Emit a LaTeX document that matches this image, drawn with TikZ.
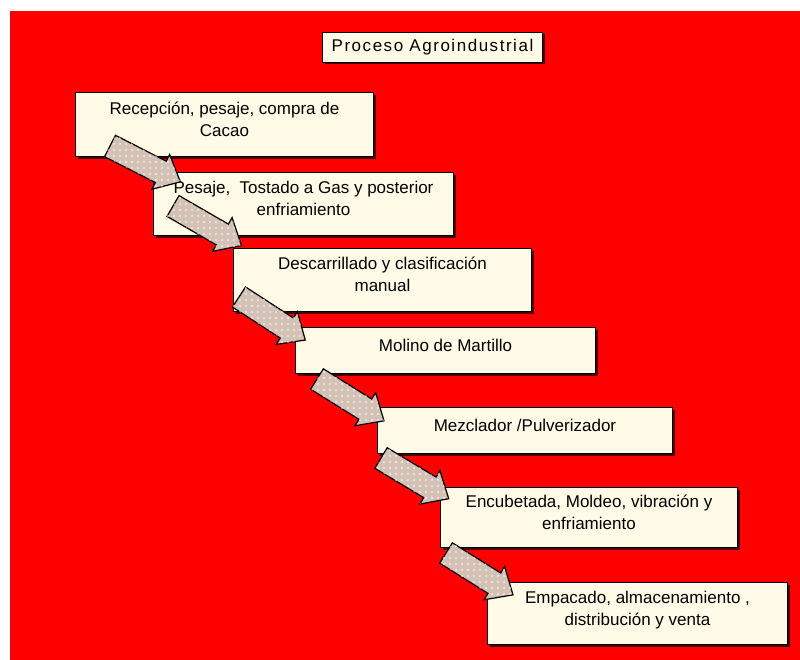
\documentclass[tikz,border=0pt]{standalone}
\usepackage{fontspec}
\setmainfont{Liberation Sans}
\usetikzlibrary{calc,shadows,patterns.meta}
\definecolor{bgred}{HTML}{FF0000}
\definecolor{boxfill}{HTML}{FFFBE6}
\definecolor{shadowc}{HTML}{4A0000}
\definecolor{arrowfill}{HTML}{D4C2B6}
\tikzset{
  stepbox/.style={rectangle, draw=black, line width=1pt, fill=boxfill,
    anchor=north west, align=center, inner sep=2pt, text depth=11pt,
    font=\fontsize{17}{22}\selectfont,
    general shadow={fill=shadowc, shadow xshift=2.5pt, shadow yshift=-2.5pt}},
  titlebox/.style={rectangle, draw=black, line width=1pt, fill=boxfill,
    anchor=north west, inner sep=2pt,
    font=\fontsize{17}{22}\selectfont\addfontfeature{LetterSpace=9},
    general shadow={fill=shadowc, shadow xshift=2pt, shadow yshift=-2pt}},
  blockarrow/.pic={
    \draw[line width=1.2pt, fill=arrowfill,
      postaction={pattern={Dots[distance=6pt,radius=0.8pt]}, pattern color=white}]
      (0,-12) -- (57,-12) -- (57,-19.5) -- (79,0) -- (57,19.5) -- (57,12) -- (0,12) -- cycle;
  }
}
\begin{document}
\begin{tikzpicture}[x=1pt,y=-1pt]
\useasboundingbox (0,0) rectangle (800,660);
\fill[bgred] (10,11) rectangle (800,660);

\node[titlebox, minimum width=220pt, minimum height=30pt] (t) at (322,32) {Proceso Agroindustrial};

\node[stepbox, minimum width=298pt, minimum height=64pt] (b1) at (75,92) {Recepción, pesaje, compra de\\Cacao};
\node[stepbox, minimum width=300pt, minimum height=63pt] (b2) at (153,172) {Pesaje,\ \ Tostado a Gas y posterior\\enfriamiento};
\node[stepbox, minimum width=298pt, minimum height=63pt] (b3) at (233,248) {Descarrillado y clasificación\\manual};
\node[stepbox, minimum width=300pt, minimum height=46pt] (b4) at (295,327) {Molino de Martillo};
\node[stepbox, minimum width=295pt, minimum height=46pt] (b5) at (377,407) {Mezclador /Pulverizador};
\node[stepbox, minimum width=297pt, minimum height=60pt] (b6) at (440,487) {Encubetada, Moldeo, vibración y\\enfriamiento};
\node[stepbox, minimum width=300pt, minimum height=62pt] (b7) at (487,582) {Empacado, almacenamiento ,\\distribución y venta};

\pic (a1) [rotate=-27] at ($(b1.south west)+(35,-11)$) {blockarrow};
\pic (a2) [rotate=-30] at ($(b2.south west)+(20,-30)$) {blockarrow};
\pic (a3) [rotate=-33] at ($(b3.south west)+(6,-15)$) {blockarrow};
\pic (a4) [rotate=-32] at ($(b4.south west)+(22,5)$) {blockarrow};
\pic (a5) [rotate=-31] at ($(b5.south west)+(4,4)$) {blockarrow};
\pic (a6) [rotate=-32] at ($(b6.south west)+(6,5)$) {blockarrow};
\end{tikzpicture}
\end{document}
